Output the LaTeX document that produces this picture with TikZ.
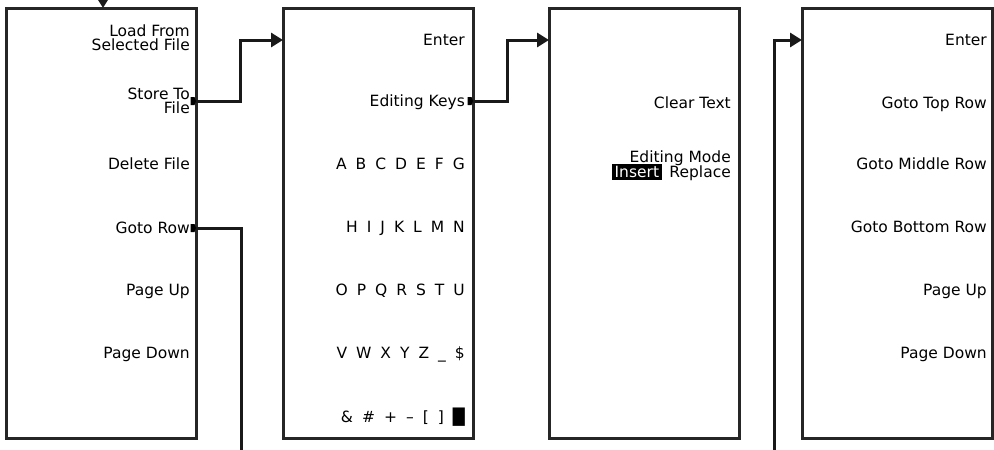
\documentclass[tikz,border=0pt]{standalone}
\usepackage{fontspec}
\setmainfont{DejaVu Sans}
\usetikzlibrary{positioning,arrows.meta}

\begin{document}
\begin{tikzpicture}[
    x=1pt, y=-1pt,
    font=\fontsize{15.5}{14}\selectfont,
    panel/.style={draw=black!85, line width=3pt, minimum width=190pt, minimum height=430pt, inner sep=0pt, outer sep=0pt},
    lbl/.style={anchor=east, inner sep=0pt, text height=11pt, text depth=0pt},
    lbltwo/.style={anchor=east, inner sep=0pt, align=right},
    keyrow/.style={lbl, execute at begin node={\spaceskip=9pt\relax}},
    flow/.style={-{Triangle[length=12pt, width=14pt]}, line width=3pt, draw=black!90},
    link/.style={line width=3pt, draw=black!90},
    marker/.style={fill=black},
  ]

  \path[use as bounding box, clip] (0,0) rectangle (994,450);

  % Panel x-centres and text right edges
  \def\xa{101}  \def\xb{378}  \def\xc{644}  \def\xd{897}
  \def\ta{190}  \def\tb{465}  \def\tc{731}  \def\td{987}

  % The four softkey menus
  \node[panel] (p1) at (\xa,223) {};
  \node[panel] (p2) at (\xb,223) {};
  \node[panel] (p3) at (\xc,223) {};
  \node[panel] (p4) at (\xd,223) {};

  % Menu 1 — file keys
  \node[lbltwo] (a1) at (\ta,38)  {Load From\\Selected File};
  \node[lbltwo] (a2) at (\ta,101) {Store To\\File};
  \node[lbl]    (a3) at (\ta,164) {Delete File};
  \node[lbl]    (a4) at (\ta,228) {Goto Row};
  \node[lbl]    (a5) at (\ta,290) {Page Up};
  \node[lbl]    (a6) at (\ta,353) {Page Down};

  % Menu 2 — character entry
  \node[lbl]    (b1) at (\tb,40)  {Enter};
  \node[lbl]    (b2) at (\tb,101) {Editing Keys};
  \node[keyrow] (b3) at (\tb,164) {A B C D E F G};
  \node[keyrow] (b4) at (\tb,227) {H I J K L M N};
  \node[keyrow] (b5) at (\tb,290) {O P Q R S T U};
  \node[keyrow] (b6) at (\tb,353) {V W X Y Z \_ \$};
  \node[keyrow] (b7) at (\tb,417) {\& \# + – [ ] █};

  % Menu 3 — editing keys
  \node[lbl] (c1) at (\tc,103) {Clear Text};
  \node[lbl] (c2) at (\tc,157) {Editing Mode};
  \node[lbl] (c3) at (\tc,172) {Replace};
  \node[lbl, fill=black, text=white, inner xsep=3pt, inner ysep=2.5pt, left=7pt of c3] (c4) {Insert};

  % Menu 4 — goto row
  \node[lbl] (d1) at (\td,40)  {Enter};
  \node[lbl] (d2) at (\td,103) {Goto Top Row};
  \node[lbl] (d3) at (\td,164) {Goto Middle Row};
  \node[lbl] (d4) at (\td,227) {Goto Bottom Row};
  \node[lbl] (d5) at (\td,290) {Page Up};
  \node[lbl] (d6) at (\td,353) {Page Down};

  % Submenu markers on the right edge
  \foreach \k/\p in {a2/p1, b2/p2, a4/p1}
    \fill[marker] (\p.east |- \k) ++(-1.5,-4) -- ++(-4,0) -- ++(0,8) -- ++(4,0) -- ++(1.5,-4) -- cycle;

  % Free ends running off the picture
  \coordinate (top)   at (103,-12);
  \coordinate (gdown) at (241,450);
  \coordinate (gup)   at (774,450);

  % Connectors
  \draw[flow] (top) -- (top |- p1.north);
  \draw[flow] (p1.east |- a2) -- ++(44,0) |- (p2.west |- b1);
  \draw[flow] (p2.east |- b2) -- ++(34,0) |- (p3.west |- b1);
  \draw[link] (p1.east |- a4) -| (gdown);
  \draw[flow] (gup) |- (p4.west |- d1);

\end{tikzpicture}
\end{document}
